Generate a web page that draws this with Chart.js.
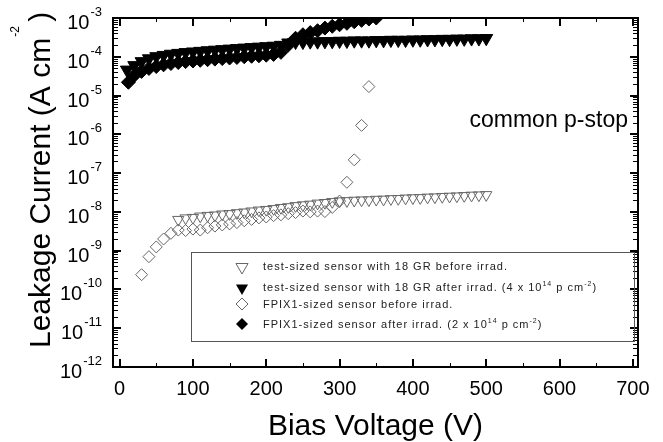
<!DOCTYPE html>
<html>
<head>
<meta charset="utf-8">
<script src="https://cdn.jsdelivr.net/npm/chart.js@4/dist/chart.umd.min.js"></script>
<style>
  html, body { margin: 0; padding: 0; background: #fff; }
  canvas { display: block; }
</style>
</head>
<body>
<canvas id="ivChart" width="663" height="442"></canvas>
<script>
// --- Data (V in volts, I in A/cm^2) ---
const testBeforeV = [80, 90, 100, 110, 120, 130, 140, 150, 160, 170, 180, 190, 200, 210, 220, 230, 240, 250, 260, 270, 280, 290, 300, 310, 320, 330, 340, 350, 360, 370, 380, 390, 400, 410, 420, 430, 440, 450, 460, 470, 480, 490, 500];
const testBeforeI = [6.3e-9, 6.9e-9, 7.1e-9, 7.7e-9, 8.0e-9, 8.2e-9, 8.7e-9, 8.9e-9, 9.4e-9, 9.8e-9, 1.04e-8, 1.1e-8, 1.14e-8, 1.2e-8, 1.28e-8, 1.34e-8, 1.43e-8, 1.5e-8, 1.56e-8, 1.66e-8, 1.72e-8, 1.82e-8, 1.9e-8, 1.92e-8, 1.97e-8, 2.0e-8, 2.02e-8, 2.08e-8, 2.1e-8, 2.16e-8, 2.18e-8, 2.24e-8, 2.28e-8, 2.3e-8, 2.37e-8, 2.4e-8, 2.46e-8, 2.5e-8, 2.54e-8, 2.6e-8, 2.66e-8, 2.7e-8, 2.75e-8];

const testAfterV = [10, 20, 30, 40, 50, 60, 70, 80, 90, 100, 110, 120, 130, 140, 150, 160, 170, 180, 190, 200, 210, 220, 230, 240, 250, 260, 270, 280, 290, 300, 310, 320, 330, 340, 350, 360, 370, 380, 390, 400, 410, 420, 430, 440, 450, 460, 470, 480, 490, 500];
const testAfterI = [4.6e-5, 6.0e-5, 7.6e-5, 9.0e-5, 1.02e-4, 1.1e-4, 1.18e-4, 1.24e-4, 1.3e-4, 1.35e-4, 1.4e-4, 1.45e-4, 1.5e-4, 1.55e-4, 1.6e-4, 1.65e-4, 1.7e-4, 1.75e-4, 1.8e-4, 1.85e-4, 1.9e-4, 2.0e-4, 2.3e-4, 2.4e-4, 2.4e-4, 2.45e-4, 2.45e-4, 2.5e-4, 2.5e-4, 2.55e-4, 2.55e-4, 2.6e-4, 2.6e-4, 2.6e-4, 2.65e-4, 2.65e-4, 2.7e-4, 2.7e-4, 2.7e-4, 2.75e-4, 2.75e-4, 2.8e-4, 2.8e-4, 2.85e-4, 2.85e-4, 2.9e-4, 2.9e-4, 2.95e-4, 2.95e-4, 3.0e-4];

const fpixBeforeV = [30, 40, 50, 60, 70, 80, 90, 100, 110, 120, 130, 140, 150, 160, 170, 180, 190, 200, 210, 220, 230, 240, 250, 260, 270, 280, 290, 300, 310, 320, 330, 340];
const fpixBeforeI = [2.4e-10, 7.0e-10, 1.25e-9, 2.0e-9, 2.8e-9, 3.4e-9, 3.3e-9, 3.6e-9, 3.4e-9, 3.9e-9, 4.3e-9, 4.6e-9, 4.9e-9, 5.3e-9, 5.9e-9, 6.4e-9, 7.0e-9, 7.4e-9, 8.0e-9, 8.4e-9, 9.0e-9, 9.6e-9, 1.05e-8, 1.0e-8, 1.05e-8, 1.02e-8, 1.3e-8, 1.9e-8, 5.8e-8, 2.2e-7, 1.7e-6, 1.7e-5];

const fpixAfterV = [12, 20, 30, 40, 50, 60, 70, 80, 90, 100, 110, 120, 130, 140, 150, 160, 170, 180, 190, 200, 210, 220, 230, 240, 250, 260, 270, 280, 290, 300, 310, 320, 330, 340, 350];
const fpixAfterI = [2.2e-5, 3.3e-5, 4.2e-5, 5.0e-5, 5.6e-5, 6.2e-5, 6.7e-5, 7.1e-5, 7.5e-5, 7.8e-5, 8.1e-5, 8.4e-5, 8.7e-5, 9.0e-5, 9.3e-5, 9.6e-5, 1.0e-4, 1.03e-4, 1.06e-4, 1.1e-4, 1.15e-4, 1.3e-4, 2.0e-4, 3.0e-4, 3.7e-4, 4.2e-4, 4.7e-4, 5.5e-4, 6.1e-4, 6.7e-4, 7.3e-4, 8.0e-4, 8.7e-4, 9.4e-4, 1.0e-3];

// --- Axes ---
const xTicks = [0, 100, 200, 300, 400, 500, 600, 700];
const xMinorTicks = [50, 150, 250, 350, 450, 550, 650];
const yExponents = [-3, -4, -5, -6, -7, -8, -9, -10, -11, -12];

const legendLabels = [
    [['test-sized sensor with 18 GR before irrad.', 0]],
    [['test-sized sensor with 18 GR after irrad. (4 x 10', 0], ['14', 1], [' p cm', 0], ['-2', 1], [')', 0]],
    [['FPIX1-sized sensor before irrad.', 0]],
    [['FPIX1-sized sensor after irrad. (2 x 10', 0], ['14', 1], [' p cm', 0], ['-2', 1], [')', 0]]
];

const FONT = '"Liberation Sans", Arial, sans-serif';
const OPEN_GRAY = '#666';

function toPoints(xs, ys) {
    return xs.map((v, i) => ({ x: v, y: ys[i] }));
}

function drawText(ctx, text, x, y, size, align) {
    ctx.font = size + 'px ' + FONT;
    ctx.textAlign = align || 'left';
    ctx.textBaseline = 'alphabetic';
    ctx.fillText(text, x, y);
    return ctx.measureText(text).width;
}

// --- Frame, ticks, labels and legend drawn on top of the scales ---
const decorations = {
    id: 'decorations',
    afterDatasetsDraw(chart) {
        const { ctx, chartArea: a } = chart;
        const xs = chart.scales.x, ys = chart.scales.y;
        ctx.save();
        ctx.fillStyle = '#000';
        ctx.strokeStyle = '#000';

        // major ticks
        ctx.lineWidth = 2;
        ctx.beginPath();
        xTicks.forEach(v => {
            const px = Math.round(xs.getPixelForValue(v));
            ctx.moveTo(px, a.bottom); ctx.lineTo(px, a.bottom - 8);
            ctx.moveTo(px, a.top); ctx.lineTo(px, a.top + 8);
        });
        yExponents.forEach(e => {
            const py = Math.round(ys.getPixelForValue(Math.pow(10, e)));
            ctx.moveTo(a.left, py); ctx.lineTo(a.left + 8, py);
            ctx.moveTo(a.right, py); ctx.lineTo(a.right - 8, py);
        });
        ctx.stroke();

        // minor ticks
        ctx.lineWidth = 1;
        ctx.beginPath();
        xMinorTicks.forEach(v => {
            const px = Math.round(xs.getPixelForValue(v)) + 0.5;
            ctx.moveTo(px, a.bottom); ctx.lineTo(px, a.bottom - 4);
            ctx.moveTo(px, a.top); ctx.lineTo(px, a.top + 4);
        });
        yExponents.slice(1).forEach(e => {
            for (let m = 2; m <= 9; m++) {
                const py = Math.round(ys.getPixelForValue(m * Math.pow(10, e))) + 0.5;
                ctx.moveTo(a.left, py); ctx.lineTo(a.left + 5, py);
                ctx.moveTo(a.right, py); ctx.lineTo(a.right - 5, py);
            }
        });
        ctx.stroke();

        // frame
        ctx.lineWidth = 2;
        ctx.strokeRect(a.left, a.top, a.right - a.left, a.bottom - a.top);

        // x tick labels
        xTicks.forEach(v => {
            drawText(ctx, String(v), xs.getPixelForValue(v), 395, 20, 'center');
        });

        // y tick labels: 10 with superscript exponent
        yExponents.forEach(e => {
            const py = ys.getPixelForValue(Math.pow(10, e));
            const right = 102;
            ctx.font = '13px ' + FONT;
            const ew = ctx.measureText(String(e)).width;
            drawText(ctx, String(e), right, py - 2, 13, 'right');
            drawText(ctx, '10', right - ew - 1, py + 11, 20, 'right');
        });

        // axis titles
        drawText(ctx, 'Bias Voltage (V)', (a.left + a.right) / 2, 435, 30, 'center');

        ctx.save();
        ctx.translate(50, 348);
        ctx.rotate(-Math.PI / 2);
        let w = drawText(ctx, 'Leakage Current (A cm', 0, 0, 30, 'left');
        const sw = drawText(ctx, '-2', w + 1, -31, 12, 'left');
        drawText(ctx, ' )', w + 1 + sw - 4, 0, 30, 'left');
        ctx.restore();

        // annotation
        drawText(ctx, 'common p-stop', 628, 127, 23, 'right');

        // legend box
        ctx.lineWidth = 1;
        ctx.strokeStyle = '#555';
        ctx.strokeRect(191.5, 252.5, 443, 89);

        const rowsY = [266, 287, 304, 324];
        const markX = 242, textX = 263;
        ctx.fillStyle = '#222';
        ctx.letterSpacing = '1px';
        rowsY.forEach((ry, i) => {
            let tx = textX;
            legendLabels[i].forEach(([t, sup]) => {
                if (sup) {
                    tx += drawText(ctx, t, tx, ry - 1, 7, 'left');
                } else {
                    tx += drawText(ctx, t, tx, ry + 4, 11, 'left');
                }
            });
        });
        ctx.letterSpacing = '0px';

        // legend markers
        const tri = (cx, cy, r, fill) => {
            ctx.beginPath();
            ctx.moveTo(cx - r * 0.866, cy - r * 0.5);
            ctx.lineTo(cx + r * 0.866, cy - r * 0.5);
            ctx.lineTo(cx, cy + r);
            ctx.closePath();
            if (fill) { ctx.fillStyle = '#000'; ctx.fill(); }
            else { ctx.strokeStyle = OPEN_GRAY; ctx.lineWidth = 1; ctx.stroke(); }
        };
        const dia = (cx, cy, r, fill) => {
            ctx.beginPath();
            ctx.moveTo(cx, cy - r);
            ctx.lineTo(cx + r, cy);
            ctx.lineTo(cx, cy + r);
            ctx.lineTo(cx - r, cy);
            ctx.closePath();
            if (fill) { ctx.fillStyle = '#000'; ctx.fill(); }
            else { ctx.strokeStyle = OPEN_GRAY; ctx.lineWidth = 1; ctx.stroke(); }
        };
        tri(markX, rowsY[0] + 1, 7, false);
        tri(markX, rowsY[1] + 1, 7, true);
        dia(markX, rowsY[2], 6, false);
        dia(markX, rowsY[3], 6, true);

        ctx.restore();
    }
};

const ctx = document.getElementById('ivChart').getContext('2d');
new Chart(ctx, {
    type: 'scatter',
    data: {
        datasets: [
            {
                label: 'test-sized sensor with 18 GR before irrad.',
                data: toPoints(testBeforeV, testBeforeI),
                pointStyle: 'triangle', rotation: 180, pointRadius: 6.5,
                borderColor: OPEN_GRAY, backgroundColor: 'rgba(0,0,0,0)', borderWidth: 1,
                clip: 0
            },
            {
                label: 'test-sized sensor with 18 GR after irrad.',
                data: toPoints(testAfterV, testAfterI),
                pointStyle: 'triangle', rotation: 180, pointRadius: 7.5,
                borderColor: '#000', backgroundColor: '#000', borderWidth: 1,
                clip: 0
            },
            {
                label: 'FPIX1-sized sensor before irrad.',
                data: toPoints(fpixBeforeV, fpixBeforeI),
                pointStyle: 'rectRot', pointRadius: 6,
                borderColor: OPEN_GRAY, backgroundColor: 'rgba(0,0,0,0)', borderWidth: 1,
                clip: 0
            },
            {
                label: 'FPIX1-sized sensor after irrad.',
                data: toPoints(fpixAfterV, fpixAfterI),
                pointStyle: 'rectRot', pointRadius: 7,
                borderColor: '#000', backgroundColor: '#000', borderWidth: 1,
                clip: 0
            }
        ]
    },
    options: {
        responsive: false,
        animation: false,
        layout: { padding: { left: 113, top: 18, right: 25, bottom: 75 } },
        plugins: { legend: { display: false }, tooltip: { enabled: false } },
        scales: {
            x: { type: 'linear', min: -9, max: 707, display: false },
            y: { type: 'logarithmic', min: 1e-12, max: 1e-3, display: false }
        }
    },
    plugins: [decorations]
});
</script>
</body>
</html>
